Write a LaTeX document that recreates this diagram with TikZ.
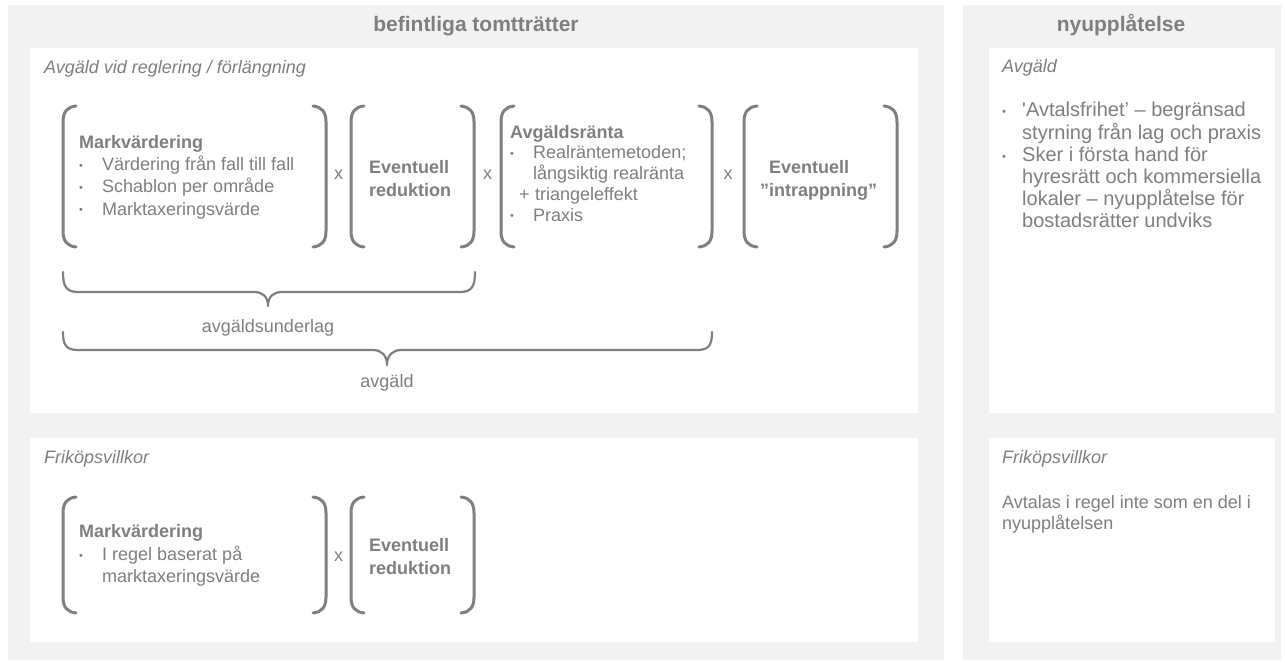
\documentclass[tikz,border=0pt]{standalone}
\usepackage{fontspec}
\setmainfont{Liberation Sans}
\usepackage{xcolor}
\usepackage{array}
\definecolor{txtgrey}{RGB}{127,127,127}
\definecolor{panelgrey}{RGB}{242,242,242}
\definecolor{lineGrey}{RGB}{128,128,128}
\newcommand{\blt}{{\fontsize{11}{11}\selectfont\raisebox{1.3pt}{•}}}

\begin{document}
\begin{tikzpicture}[x=1pt,y=1pt,yscale=-1,xscale=1,
    txt/.style={text=txtgrey, inner sep=0pt, font=\fontsize{18}{#1}\selectfont},
    txt/.default=22,
    big/.style={text=txtgrey, inner sep=0pt, font=\fontsize{20}{#1}\selectfont},
    big/.default=22,
    hdr/.style={text=txtgrey, inner sep=0pt, font=\fontsize{21}{25}\selectfont\bfseries},
    ttl/.style={text=txtgrey, inner sep=0pt, font=\fontsize{18}{22}\selectfont\itshape},
    brk/.style={draw=lineGrey, line width=3pt, line cap=round},
    brc/.style={draw=lineGrey, line width=2.2pt, line cap=round, line join=round},
    panel/.style={fill=panelgrey, draw=none},
    box/.style={fill=white, draw=none}]
        %set diagram size to 1285 x 662
        \useasboundingbox (0,0) rectangle (1285,662);
        \fill [white] (0,0) rectangle (1285,662);

        %Shape: Rectangle (panels)
        \fill [panel] (8,5) rectangle (944,660);
        \fill [panel] (963,5) rectangle (1281,660);
        %Shape: Rectangle (inner boxes)
        \fill [box] (30,48) rectangle (918,413);
        \fill [box] (30,438) rectangle (918,642);
        \fill [box] (989,48) rectangle (1275,413);
        \fill [box] (989,438) rectangle (1275,642);

        % Text Node
        \draw (476,31) node [hdr, anchor=base] (hdrL) {befintliga tomtträtter};
        % Text Node
        \draw (1121,31) node [hdr, anchor=base] (hdrR) {nyupplåtelse};
        % Text Node
        \draw (44,73) node [ttl, anchor=base west] (ttlAvg) {Avgäld vid reglering / förlängning};
        % Text Node
        \draw (44,463) node [ttl, anchor=base west] (ttlFri) {Friköpsvillkor};
        % Text Node
        \draw (1002,72) node [ttl, anchor=base west] (ttlAvgR) {Avgäld};
        % Text Node
        \draw (1002,463) node [ttl, anchor=base west] (ttlFriR) {Friköpsvillkor};

        %Shape: Bracket (Markvärdering)
        \draw [brk] (76,106) .. controls (67,107) and (63,112) .. (63,122) -- (63,231) .. controls (63,241) and (67,246) .. (76,247) ;
        \draw [brk] (313,106) .. controls (322,107) and (326,112) .. (326,122) -- (326,231) .. controls (326,241) and (322,246) .. (313,247) ;
        %Shape: Bracket (reduktion)
        \draw [brk] (364,106) .. controls (355,107) and (351,112) .. (351,122) -- (351,231) .. controls (351,241) and (355,246) .. (364,247) ;
        \draw [brk] (461,106) .. controls (470,107) and (474,112) .. (474,122) -- (474,231) .. controls (474,241) and (470,246) .. (461,247) ;
        %Shape: Bracket (Avgäldsränta)
        \draw [brk] (514,106) .. controls (505,107) and (501,112) .. (501,122) -- (501,231) .. controls (501,241) and (505,246) .. (514,247) ;
        \draw [brk] (699,106) .. controls (708,107) and (712,112) .. (712,122) -- (712,231) .. controls (712,241) and (708,246) .. (699,247) ;
        %Shape: Bracket (intrappning)
        \draw [brk] (757,106) .. controls (748,107) and (744,112) .. (744,122) -- (744,231) .. controls (744,241) and (748,246) .. (757,247) ;
        \draw [brk] (884,106) .. controls (893,107) and (897,112) .. (897,122) -- (897,231) .. controls (897,241) and (893,246) .. (884,247) ;

        % Text Node
        \draw (79,132.4) node [txt=22.3, anchor=north west] (mv) {%
          \begin{tabular}{@{}p{23pt}@{}l@{}}
            \multicolumn{2}{@{}l@{}}{\bfseries Markvärdering}\\
            \blt & Värdering från fall till fall\\
            \blt & Schablon per område\\
            \blt & Marktaxeringsvärde
          \end{tabular}};
        % Text Node
        \draw (338.5,179) node [txt, anchor=base] (x1) {x};
        % Text Node
        \draw (369,156.9) node [txt=23, anchor=north west] (red) {%
          \begin{tabular}{@{}l@{}}\bfseries Eventuell\\ \bfseries reduktion\end{tabular}};
        % Text Node
        \draw (487.5,179) node [txt, anchor=base] (x2) {x};
        % Text Node
        \draw (510,123.5) node [txt=20.7, anchor=north west] (ranta) {%
          \begin{tabular}{@{}p{23pt}@{}l@{}}
            \multicolumn{2}{@{}l@{}}{\bfseries Avgäldsränta}\\
            \blt & Realräntemetoden;\\
                 & långsiktig realränta\\
            \hspace{9pt}+ & \hspace{2pt}triangeleffekt\\
            \blt & Praxis
          \end{tabular}};
        % Text Node
        \draw (728,179) node [txt, anchor=base] (x3) {x};
        % Text Node
        \draw (769,156.9) node [txt=23, anchor=north west] (intr) {%
          \begin{tabular}{@{}l@{}}\bfseries Eventuell\\ \bfseries\llap{”}intrappning”\end{tabular}};

        %Shape: Brace (avgäldsunderlag)
        \draw [brc] (63,272) .. controls (63,286) and (66,292) .. (78,292) -- (254,292) .. controls (262,292) and (268,296) .. (268,306) .. controls (268,296) and (274,292) .. (282,292) -- (460,292) .. controls (472,292) and (475,286) .. (475,272) ;
        % Text Node
        \draw (268,332) node [txt, anchor=base] (underlag) {avgäldsunderlag};
        %Shape: Brace (avgäld)
        \draw [brc] (63,332) .. controls (63,345) and (66,350) .. (78,350) -- (373,350) .. controls (381,350) and (387,355) .. (387,365) .. controls (387,355) and (393,350) .. (401,350) -- (697,350) .. controls (709,350) and (712,345) .. (712,332) ;
        % Text Node
        \draw (387,387) node [txt, anchor=base] (avg) {avgäld};

        %Shape: Bracket (Markvärdering, friköp)
        \draw [brk] (76,497) .. controls (67,498) and (63,503) .. (63,513) -- (63,597) .. controls (63,607) and (67,612) .. (76,613) ;
        \draw [brk] (313,497) .. controls (322,498) and (326,503) .. (326,513) -- (326,597) .. controls (326,607) and (322,612) .. (313,613) ;
        %Shape: Bracket (reduktion, friköp)
        \draw [brk] (364,497) .. controls (355,498) and (351,503) .. (351,513) -- (351,597) .. controls (351,607) and (355,612) .. (364,613) ;
        \draw [brk] (461,497) .. controls (470,498) and (474,503) .. (474,513) -- (474,597) .. controls (474,607) and (470,612) .. (461,613) ;

        % Text Node
        \draw (79,522) node [txt=22.5, anchor=north west] (mvF) {%
          \begin{tabular}{@{}p{23pt}@{}l@{}}
            \multicolumn{2}{@{}l@{}}{\bfseries Markvärdering}\\
            \blt & I regel baserat på\\
                 & marktaxeringsvärde
          \end{tabular}};
        % Text Node
        \draw (338.5,561) node [txt, anchor=base] (xF) {x};
        % Text Node
        \draw (369,534.9) node [txt=23, anchor=north west] (redF) {%
          \begin{tabular}{@{}l@{}}\bfseries Eventuell\\ \bfseries reduktion\end{tabular}};

        % Text Node
        \draw (1002,101.5) node [big=21.8, anchor=north west] (nyAvg) {%
          \begin{tabular}{@{}p{20pt}@{}l@{}}
            \blt & \textquotesingle Avtalsfrihet’ – begränsad\\
                 & styrning från lag och praxis\\
            \blt & Sker i första hand för\\
                 & hyresrätt och kommersiella\\
                 & lokaler – nyupplåtelse för\\
                 & bostadsrätter undviks
          \end{tabular}};
        % Text Node
        \draw (1002,493.3) node [txt=21, anchor=north west] (nyFri) {%
          \begin{tabular}{@{}l@{}}
            Avtalas i regel inte som en del i\\
            nyupplåtelsen
          \end{tabular}};

\end{tikzpicture}
\end{document}
